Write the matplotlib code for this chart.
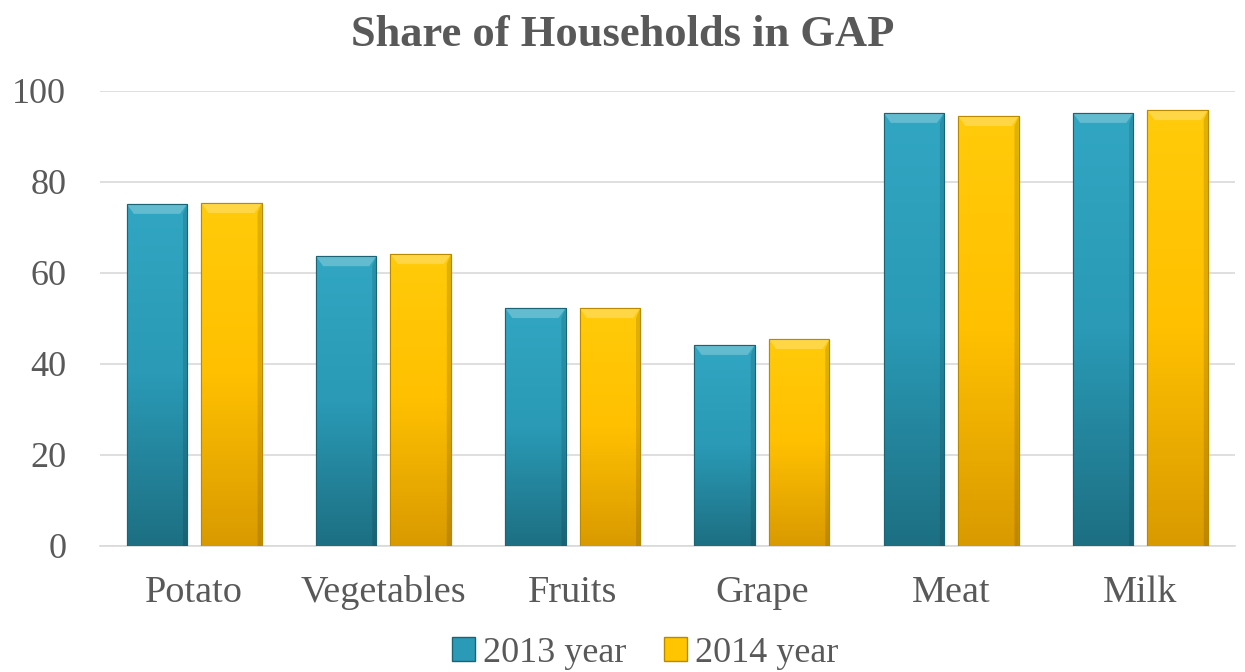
import matplotlib
matplotlib.use("Agg")
import matplotlib.pyplot as plt
import matplotlib.patches as mpatches
import numpy as np
from matplotlib.colors import LinearSegmentedColormap

# data
categories = ["Potato", "Vegetables", "Fruits", "Grape", "Meat", "Milk"]
y2013 = [75.2, 63.7, 52.3, 44.2, 95.2, 95.2]
y2014 = [75.4, 64.2, 52.3, 45.5, 94.5, 95.8]
series_names = ["2013 year", "2014 year"]

TEAL = "#2A9AB6"
GOLD = "#FFC600"
GRID = "#D9D9D9"
TXT = "#595959"

plt.rcParams["font.family"] = ["Liberation Serif", "DejaVu Serif"]

fig = plt.figure(figsize=(12.45, 6.72), dpi=100)
ax = fig.add_axes([0.08, 0.1875, 0.912, 0.6771])

x = np.arange(len(categories))
w = 0.32
off = 0.197

cm_teal = LinearSegmentedColormap.from_list("t", ["#1D6F82", "#2A9AB6", "#31A6C2"])
cm_gold = LinearSegmentedColormap.from_list("g", ["#D99A00", "#FFC000", "#FFCB0A"])


def shaded_bars(xs, vals, color, cmap, edge):
    bars = ax.bar(xs, vals, width=w, color=color, edgecolor=edge,
                  linewidth=0.8, zorder=3)
    grad = np.linspace(0, 1, 256).reshape(-1, 1)
    for b in bars:
        x0, y0 = b.get_x(), b.get_y()
        bw, bh = b.get_width(), b.get_height()
        im = ax.imshow(grad, cmap=cmap, aspect="auto", origin="lower",
                       extent=[x0, x0 + bw, y0, y0 + bh], zorder=3.5)
        im.set_clip_path(b)
        # bevel highlight at the top, darker strip on the right
        top = mpatches.Polygon([[x0, y0 + bh], [x0 + bw, y0 + bh],
                                [x0 + bw * 0.88, y0 + bh - 2.2],
                                [x0 + bw * 0.12, y0 + bh - 2.2]],
                               closed=True, facecolor="white", alpha=0.25,
                               edgecolor="none", zorder=4)
        ax.add_patch(top)
        side = mpatches.Polygon([[x0 + bw, y0 + bh], [x0 + bw * 0.93, y0 + bh - 2.2],
                                 [x0 + bw * 0.93, y0], [x0 + bw, y0]],
                                closed=True, facecolor="black", alpha=0.12,
                                edgecolor="none", zorder=4)
        ax.add_patch(side)
        ax.add_patch(mpatches.Rectangle((x0, y0), bw, bh, fill=False,
                                        edgecolor=edge, linewidth=0.8, zorder=4.5))
    return bars


shaded_bars(x - off, y2013, TEAL, cm_teal, "#1B6475")
shaded_bars(x + off, y2014, GOLD, cm_gold, "#B88A00")

ax.set_xlim(-0.5, len(categories) - 0.5)
ax.set_ylim(0, 100)
ax.set_yticks(range(0, 101, 20))
ax.set_xticks(x)
ax.set_xticklabels(categories)
ax.yaxis.grid(True, color=GRID, linewidth=1.2, zorder=0)
ax.set_axisbelow(True)
for s in ["left", "right", "top"]:
    ax.spines[s].set_visible(False)
ax.spines["bottom"].set_color(GRID)
ax.spines["bottom"].set_linewidth(1.2)
ax.tick_params(axis="both", length=0, colors=TXT)
ax.tick_params(axis="y", labelsize=26, pad=24)
ax.tick_params(axis="x", labelsize=27.5, pad=21)

fig.text(0.5, 0.948, "Share of Households in GAP", ha="center", va="center",
         fontsize=32, fontweight="bold", color=TXT)

handles = [mpatches.Patch(facecolor=TEAL, edgecolor="#1B6475"),
           mpatches.Patch(facecolor=GOLD, edgecolor="#B88A00")]
fig.legend(handles, series_names, loc="center", bbox_to_anchor=(0.518, 0.028),
           ncol=2, frameon=False, fontsize=26, labelcolor=TXT,
           handlelength=0.65, handleheight=0.65, handletextpad=0.2,
           columnspacing=1.05, borderpad=0)

fig.savefig("out.png", dpi=100)
